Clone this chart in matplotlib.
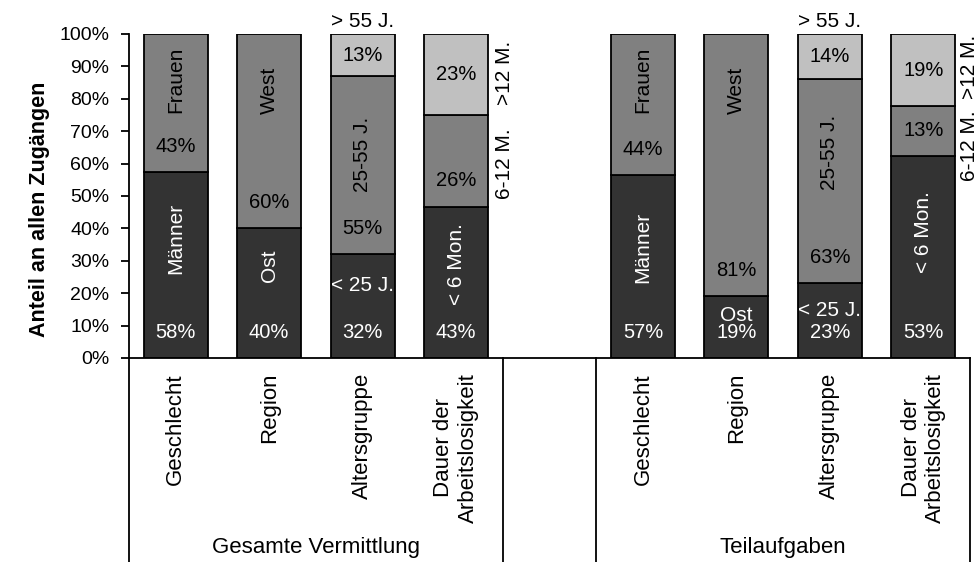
import numpy as np
import matplotlib.pyplot as plt

plt.rcParams['font.family'] = ['Liberation Sans', 'DejaVu Sans']

categories = ["Geschlecht", "Region", "Altersgruppe", "Dauer der\nArbeitslosigkeit"]
groups = ["Gesamte Vermittlung", "Teilaufgaben"]

# shares in % as printed on the bars (100% stacked, so each bar gets normalized)
gesamt_unten = [58, 40, 32, 43]
gesamt_mitte = [43, 60, 55, 26]
gesamt_oben = [0, 0, 13, 23]
teil_unten = [57, 19, 23, 53]
teil_mitte = [44, 81, 63, 13]
teil_oben = [0, 0, 14, 19]

# segment names
names_unten = ["Männer", "Ost", "< 25 J.", "< 6 Mon."]
names_mitte = ["Frauen", "West", "25-55 J.", "6-12 M."]
names_oben = ["", "", "> 55 J.", ">12 M."]

DARK, MID, LIGHT = "#333333", "#808080", "#c0c0c0"

unten = np.array(gesamt_unten + teil_unten, dtype=float)
mitte = np.array(gesamt_mitte + teil_mitte, dtype=float)
oben = np.array(gesamt_oben + teil_oben, dtype=float)
total = unten + mitte + oben
u = unten / total * 100
m = mitte / total * 100
o = oben / total * 100

# 4 bars per group, one empty slot in between
pos = np.array([0, 1, 2, 3, 5, 6, 7, 8])

fig = plt.figure(figsize=(9.78, 5.62), dpi=100)
ax = fig.add_axes([129 / 978, 204 / 562, 841 / 978, 324 / 562])

bw = 0.685
ax.bar(pos, u, width=bw, color=DARK, edgecolor="black", linewidth=1.3)
ax.bar(pos, m, bottom=u, width=bw, color=MID, edgecolor="black", linewidth=1.3)
has_top = o > 0
ax.bar(pos[has_top], o[has_top], bottom=(u + m)[has_top], width=bw,
       color=LIGHT, edgecolor="black", linewidth=1.3)

ax.set_xlim(-0.5, 8.5)
ax.set_ylim(0, 100)
ax.set_yticks(range(0, 101, 10))
ax.set_yticklabels([f"{v}%" for v in range(0, 101, 10)])
ax.set_xticks([])
ax.tick_params(axis="y", direction="out", length=6, width=1.3, pad=8, labelsize=14)
for s in ["top", "right"]:
    ax.spines[s].set_visible(False)
for s in ["left", "bottom"]:
    ax.spines[s].set_linewidth(1.3)

# value labels
for i, p in enumerate(pos):
    ax.text(p, 8, f"{unten[i]:.0f}%", color="white", ha="center", va="center", fontsize=14.5)
    ax.text(p, u[i] + 8, f"{mitte[i]:.0f}%", color="black", ha="center", va="center", fontsize=14.5)
    if oben[i] > 0:
        ax.text(p, u[i] + m[i] + o[i] / 2, f"{oben[i]:.0f}%", color="black",
                ha="center", va="center", fontsize=14.5)


def lbl(x, y, s, rot=90, c="black"):
    ax.text(x, y, s, rotation=rot, color=c, ha="center", va="center", fontsize=15, clip_on=False)


# segment names, left group
lbl(0, 37, names_unten[0], c="white")
lbl(0, 86, names_mitte[0])
lbl(1, 28.4, names_unten[1], c="white")
lbl(1, 82.7, names_mitte[1])
lbl(2, 22.5, names_unten[2], rot=0, c="white")
lbl(2, 63, names_mitte[2])
lbl(2, 104, names_oben[2], rot=0)
lbl(3, 29, names_unten[3], c="white")
lbl(3.52, 60, names_mitte[3])
lbl(3.52, 88, names_oben[3])
# right group
lbl(5, 34, names_unten[0], c="white")
lbl(5, 86, names_mitte[0])
lbl(6, 13, names_unten[1], rot=0, c="white")
lbl(6, 82.7, names_mitte[1])
lbl(7, 14.8, names_unten[2], rot=0, c="white")
lbl(7, 63.6, names_mitte[2])
lbl(7, 104, names_oben[2], rot=0)
lbl(8, 38.8, names_unten[3], c="white")
lbl(8.5, 65.4, names_mitte[3])
lbl(8.5, 90, names_oben[3])

# two-level category axis
tr = ax.get_xaxis_transform()
for i, p in enumerate(pos):
    ax.text(p, -0.046, categories[i % 4], transform=tr, rotation=90, ha="center", va="top",
            multialignment="center", fontsize=16)
for gx, g in zip([1.5, 6.5], groups):
    ax.text(gx, -0.586, g, transform=tr, ha="center", va="center", fontsize=16)
for xs in [-0.5, 3.5, 4.5, 8.5]:
    ax.plot([xs, xs], [0, -0.7], transform=tr, color="black", lw=1.3, clip_on=False)

fig.text(40 / 978, 1 - 209 / 562, "Anteil an allen Zugängen", rotation=90, fontweight="bold",
         fontsize=15.5, ha="center", va="center")

fig.savefig("out.png", dpi=100)
